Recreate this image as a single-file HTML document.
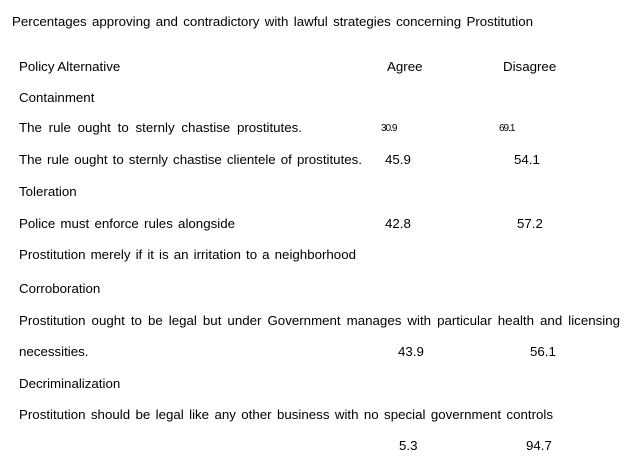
<!DOCTYPE html>
<html><head><meta charset="utf-8"><style>
html,body{margin:0;padding:0;background:#fff;}
body{width:632px;height:464px;position:relative;overflow:hidden;font-family:"Liberation Sans",Arial,sans-serif;font-size:13.3px;color:#000;}
div{position:absolute;line-height:14px;white-space:nowrap;}
.j{text-align:justify;text-align-last:justify;white-space:normal;height:14px;}
.s{font-size:10px;letter-spacing:-1px;}
</style></head><body>
<div class="j" style="left:12px;top:15px;width:521px">Percentages approving and contradictory with lawful strategies concerning Prostitution</div>
<div style="left:19px;top:60px">Policy Alternative</div>
<div style="left:387px;top:60px">Agree</div>
<div style="left:503px;top:60px">Disagree</div>
<div style="left:19px;top:91px">Containment</div>
<div class="j" style="left:19px;top:121px;width:283px">The rule ought to sternly chastise prostitutes.</div>
<div class="s" style="left:381px;top:122px">30.9</div>
<div class="s" style="left:499px;top:122px">69.1</div>
<div class="j" style="left:19px;top:153px;width:343px">The rule ought to sternly chastise clientele of prostitutes.</div>
<div style="left:385px;top:153px">45.9</div>
<div style="left:514px;top:153px">54.1</div>
<div style="left:19px;top:185px">Toleration</div>
<div class="j" style="left:19px;top:217px;width:216px">Police must enforce rules alongside</div>
<div style="left:385px;top:217px">42.8</div>
<div style="left:517px;top:217px">57.2</div>
<div class="j" style="left:19px;top:248px;width:337px">Prostitution merely if it is an irritation to a neighborhood</div>
<div style="left:19px;top:282px">Corroboration</div>
<div class="j" style="left:19px;top:314px;width:601px">Prostitution ought to be legal but under Government manages with particular health and licensing</div>
<div style="left:19px;top:345px">necessities.</div>
<div style="left:398px;top:345px">43.9</div>
<div style="left:530px;top:345px">56.1</div>
<div style="left:19px;top:377px">Decriminalization</div>
<div class="j" style="left:19px;top:408px;width:534px">Prostitution should be legal like any other business with no special government controls</div>
<div style="left:399px;top:439px">5.3</div>
<div style="left:526px;top:439px">94.7</div>
</body></html>
